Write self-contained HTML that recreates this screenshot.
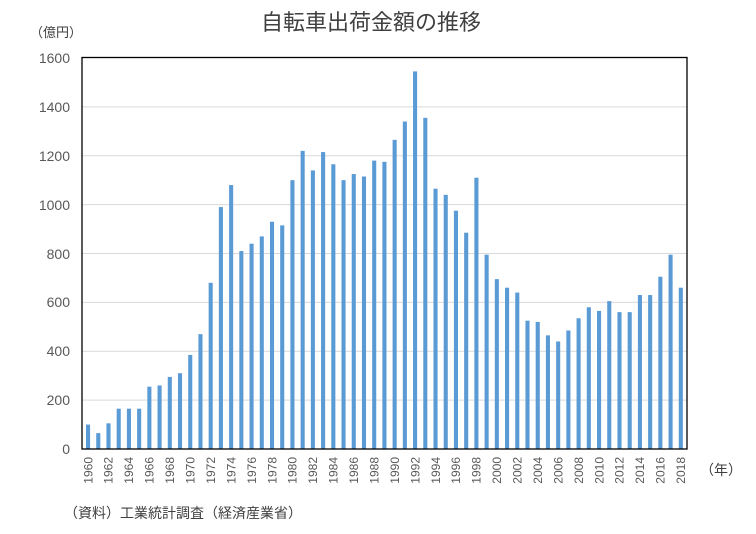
<!DOCTYPE html>
<html><head><meta charset="utf-8"><style>
body{margin:0;background:#fff;}
svg text{font-family:"Liberation Sans","Noto Sans CJK JP",sans-serif;}
</style></head><body>
<svg width="756" height="529" viewBox="0 0 756 529" xmlns="http://www.w3.org/2000/svg">
<rect width="756" height="529" fill="#fff"/>
<text x="371" y="30" font-size="22" text-anchor="middle" fill="#404040">自転車出荷金額の推移</text>
<text x="30" y="37" font-size="13" fill="#404040">（億円）</text>
<g stroke="#d9d9d9" stroke-width="1">
<line x1="82" x2="687" y1="351.25" y2="351.25"/>
<line x1="82" x2="687" y1="302.4" y2="302.4"/>
<line x1="82" x2="687" y1="253.5" y2="253.5"/>
<line x1="82" x2="687" y1="204.6" y2="204.6"/>
<line x1="82" x2="687" y1="155.75" y2="155.75"/>
<line x1="82" x2="687" y1="106.9" y2="106.9"/>
<line x1="82" x2="687" y1="400.1" y2="400.1"/>
</g>
<g font-size="14" fill="#595959" text-anchor="end">
<text x="70" y="454">0</text>
<text x="70" y="405">200</text>
<text x="70" y="356">400</text>
<text x="70" y="307">600</text>
<text x="70" y="259">800</text>
<text x="70" y="210">1000</text>
<text x="70" y="161">1200</text>
<text x="70" y="112">1400</text>
<text x="70" y="63">1600</text>
</g>
<g transform="translate(86,449) scale(10.22,-0.2444)" fill="#5b9bd5">
<rect x="0" width="0.4" height="100"/><rect x="1" width="0.4" height="65"/><rect x="2" width="0.4" height="105"/><rect x="3" width="0.4" height="165"/><rect x="4" width="0.4" height="165"/><rect x="5" width="0.4" height="165"/><rect x="6" width="0.4" height="255"/><rect x="7" width="0.4" height="260"/><rect x="8" width="0.4" height="295"/><rect x="9" width="0.4" height="310"/>
<rect x="10" width="0.4" height="385"/><rect x="11" width="0.4" height="470"/><rect x="12" width="0.4" height="680"/><rect x="13" width="0.4" height="990"/><rect x="14" width="0.4" height="1080"/><rect x="15" width="0.4" height="810"/><rect x="16" width="0.4" height="840"/><rect x="17" width="0.4" height="870"/><rect x="18" width="0.4" height="930"/><rect x="19" width="0.4" height="915"/>
<rect x="20" width="0.4" height="1100"/><rect x="21" width="0.4" height="1220"/><rect x="22" width="0.4" height="1140"/><rect x="23" width="0.4" height="1215"/><rect x="24" width="0.4" height="1165"/><rect x="25" width="0.4" height="1100"/><rect x="26" width="0.4" height="1125"/><rect x="27" width="0.4" height="1115"/><rect x="28" width="0.4" height="1180"/><rect x="29" width="0.4" height="1175"/>
<rect x="30" width="0.4" height="1265"/><rect x="31" width="0.4" height="1340"/><rect x="32" width="0.4" height="1545"/><rect x="33" width="0.4" height="1355"/><rect x="34" width="0.4" height="1065"/><rect x="35" width="0.4" height="1040"/><rect x="36" width="0.4" height="975"/><rect x="37" width="0.4" height="885"/><rect x="38" width="0.4" height="1110"/><rect x="39" width="0.4" height="795"/>
<rect x="40" width="0.4" height="695"/><rect x="41" width="0.4" height="660"/><rect x="42" width="0.4" height="640"/><rect x="43" width="0.4" height="525"/><rect x="44" width="0.4" height="520"/><rect x="45" width="0.4" height="465"/><rect x="46" width="0.4" height="440"/><rect x="47" width="0.4" height="485"/><rect x="48" width="0.4" height="535"/><rect x="49" width="0.4" height="580"/>
<rect x="50" width="0.4" height="565"/><rect x="51" width="0.4" height="605"/><rect x="52" width="0.4" height="560"/><rect x="53" width="0.4" height="560"/><rect x="54" width="0.4" height="630"/><rect x="55" width="0.4" height="630"/><rect x="56" width="0.4" height="705"/><rect x="57" width="0.4" height="795"/><rect x="58" width="0.4" height="660"/>
</g>
<rect x="82" y="57.5" width="605" height="391.5" fill="none" stroke="#000" stroke-width="1.3"/>
<g font-size="12" fill="#595959" text-anchor="end">
<text transform="translate(92.3,457) rotate(-90)">1960</text>
<text transform="translate(112.7,457) rotate(-90)">1962</text>
<text transform="translate(133.2,457) rotate(-90)">1964</text>
<text transform="translate(153.6,457) rotate(-90)">1966</text>
<text transform="translate(174.1,457) rotate(-90)">1968</text>
<text transform="translate(194.5,457) rotate(-90)">1970</text>
<text transform="translate(214.9,457) rotate(-90)">1972</text>
<text transform="translate(235.4,457) rotate(-90)">1974</text>
<text transform="translate(255.8,457) rotate(-90)">1976</text>
<text transform="translate(276.3,457) rotate(-90)">1978</text>
<text transform="translate(296.7,457) rotate(-90)">1980</text>
<text transform="translate(317.1,457) rotate(-90)">1982</text>
<text transform="translate(337.6,457) rotate(-90)">1984</text>
<text transform="translate(358,457) rotate(-90)">1986</text>
<text transform="translate(378.5,457) rotate(-90)">1988</text>
<text transform="translate(398.9,457) rotate(-90)">1990</text>
<text transform="translate(419.3,457) rotate(-90)">1992</text>
<text transform="translate(439.8,457) rotate(-90)">1994</text>
<text transform="translate(460.2,457) rotate(-90)">1996</text>
<text transform="translate(480.7,457) rotate(-90)">1998</text>
<text transform="translate(501.1,457) rotate(-90)">2000</text>
<text transform="translate(521.5,457) rotate(-90)">2002</text>
<text transform="translate(542,457) rotate(-90)">2004</text>
<text transform="translate(562.4,457) rotate(-90)">2006</text>
<text transform="translate(582.9,457) rotate(-90)">2008</text>
<text transform="translate(603.3,457) rotate(-90)">2010</text>
<text transform="translate(623.7,457) rotate(-90)">2012</text>
<text transform="translate(644.2,457) rotate(-90)">2014</text>
<text transform="translate(664.6,457) rotate(-90)">2016</text>
<text transform="translate(685.1,457) rotate(-90)">2018</text>
</g>
<text x="700" y="475" font-size="14" fill="#404040">（年）</text>
<text x="64" y="518" font-size="14" fill="#404040">（資料）工業統計調査（経済産業省）</text>
</svg>
</body></html>
